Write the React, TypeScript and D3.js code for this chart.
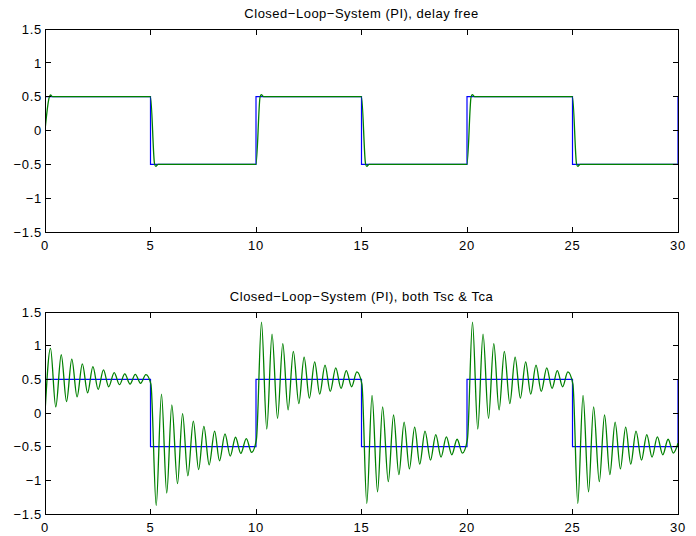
import * as d3 from 'd3';

const W = 696;
const H = 536;

// axis ticks (MATLAB defaults)
const xTicks = [0, 5, 10, 15, 20, 25, 30];
const yTicks = [-1.5, -1, -0.5, 0, 0.5, 1, 1.5];

// reference square wave: level holds from each switch time onwards
const refSwitchT = [0, 5, 10, 15, 20, 25, 30];
const refLevel = [0.5, -0.5, 0.5, -0.5, 0.5, -0.5, 0.5];

// delay free response
const delayFreeT = [0, 0.2, 0.26, 0.36, 5, 5.19, 5.25, 5.36, 10, 10.19, 10.25, 10.36, 15, 15.19, 15.25, 15.36, 20, 20.19, 20.25, 20.36, 25, 25.19, 25.25, 25.36, 30];
const delayFreeY = [0, 0.49, 0.525, 0.5, 0.5, -0.49, -0.53, -0.5, -0.5, 0.49, 0.53, 0.5, 0.5, -0.49, -0.53, -0.5, -0.5, 0.49, 0.53, 0.5, 0.5, -0.49, -0.53, -0.5, -0.5];

// response with both delays: turning points per half period, [t, y]
const bothSeg0 = [[0, 0], [0.26, 0.96], [0.51, 0.09], [0.77, 0.865], [1.02, 0.17], [1.27, 0.8], [1.52, 0.24], [1.77, 0.73], [2.02, 0.3], [2.27, 0.69], [2.52, 0.35], [2.77, 0.64], [3.02, 0.39], [3.28, 0.6], [3.53, 0.42], [3.78, 0.58], [4.03, 0.43], [4.28, 0.575], [4.53, 0.44], [4.78, 0.57]];
const bothSeg1 = [[5.02, 0.43], [5.27, -1.375], [5.52, 0.28], [5.77, -1.19], [6.01, 0.12], [6.28, -1.05], [6.52, -0.01], [6.77, -0.935], [7.03, -0.12], [7.28, -0.84], [7.53, -0.2], [7.78, -0.77], [8.04, -0.27], [8.27, -0.71], [8.53, -0.31], [8.78, -0.64], [9.03, -0.36], [9.28, -0.6], [9.54, -0.38], [9.79, -0.585]];
const bothSeg2 = [[10.02, -0.39], [10.26, 1.35], [10.51, -0.24], [10.76, 1.17], [11.02, -0.08], [11.27, 1.03], [11.52, 0.045], [11.77, 0.915], [12.03, 0.14], [12.28, 0.83], [12.53, 0.22], [12.78, 0.76], [13.02, 0.28], [13.27, 0.71], [13.52, 0.32], [13.78, 0.67], [14.03, 0.365], [14.28, 0.63], [14.53, 0.39], [14.78, 0.61]];
const bothSeg3 = [[15.02, 0.43], [15.25, -1.345], [15.5, 0.26], [15.76, -1.17], [16.0, 0.09], [16.27, -1.02], [16.52, -0.03], [16.77, -0.915], [17.02, -0.135], [17.27, -0.83], [17.52, -0.21], [17.76, -0.76], [18.01, -0.27], [18.27, -0.7], [18.52, -0.32], [18.77, -0.655], [19.02, -0.355], [19.28, -0.62], [19.53, -0.39], [19.78, -0.595]];
const bothSeg4 = [[20.02, -0.39], [20.26, 1.35], [20.51, -0.24], [20.76, 1.17], [21.02, -0.08], [21.27, 1.03], [21.52, 0.045], [21.77, 0.915], [22.03, 0.14], [22.28, 0.83], [22.53, 0.22], [22.78, 0.76], [23.02, 0.28], [23.27, 0.71], [23.52, 0.32], [23.78, 0.67], [24.03, 0.365], [24.28, 0.63], [24.53, 0.39], [24.78, 0.61]];
const bothSeg5 = [[25.02, 0.43], [25.25, -1.345], [25.5, 0.26], [25.76, -1.17], [26.0, 0.09], [26.27, -1.02], [26.52, -0.03], [26.77, -0.915], [27.02, -0.135], [27.27, -0.83], [27.52, -0.21], [27.76, -0.76], [28.01, -0.27], [28.27, -0.7], [28.52, -0.32], [28.77, -0.655], [29.02, -0.355], [29.28, -0.62], [29.53, -0.39], [29.78, -0.595], [30, -0.45]];

const titles = ['Closed\u2212Loop\u2212System (PI), delay free', 'Closed\u2212Loop\u2212System (PI), both Tsc & Tca'];

const FONT = '"Liberation Sans", Arial, Helvetica, sans-serif';
const BLUE = '#0000ff';
const GREEN = '#008000';

const fmt = (v: number) => (v < 0 ? '\u2212' + Math.abs(v) : String(v));

function Panel({ yTop, yBottom, title, green }: { yTop: number; yBottom: number; title: string; green: [number, number][] }) {
  const x = d3.scaleLinear().domain([0, 30]).range([45, 678]);
  const y = d3.scaleLinear().domain([-1.5, 1.5]).range([yBottom, yTop]);
  const tick = 5.5;

  const refPts = refSwitchT.map((t, i) => [t, refLevel[i]] as [number, number]);
  const refPath = d3.line<[number, number]>().x(d => x(d[0])).y(d => y(d[1])).curve(d3.curveStepAfter)(refPts) || '';
  const greenPath = d3.line<[number, number]>().x(d => x(d[0])).y(d => y(d[1])).curve(d3.curveMonotoneX)(green) || '';

  const [x0, x1] = x.range();
  return (
    <g>
      <rect x={x0} y={yTop} width={x1 - x0} height={yBottom - yTop} fill="#fff" />
      <defs>
        <clipPath id={`clip${yTop}`}>
          <rect x={x0} y={yTop} width={x1 - x0 + 1} height={yBottom - yTop} />
        </clipPath>
      </defs>
      <g clipPath={`url(#clip${yTop})`}>
        <path d={refPath} fill="none" stroke={BLUE} strokeWidth={1.2} />
        <path d={greenPath} fill="none" stroke={GREEN} strokeWidth={1.3} />
      </g>
      <g stroke="#000" strokeWidth={1} shapeRendering="crispEdges">
        <rect x={x0} y={yTop} width={x1 - x0} height={yBottom - yTop} fill="none" />
        {xTicks.map(t => (
          <g key={'x' + t}>
            <line x1={x(t)} x2={x(t)} y1={yBottom} y2={yBottom - tick} />
            <line x1={x(t)} x2={x(t)} y1={yTop} y2={yTop + tick} />
          </g>
        ))}
        {yTicks.map(t => (
          <g key={'y' + t}>
            <line x1={x0} x2={x0 + tick} y1={y(t)} y2={y(t)} />
            <line x1={x1} x2={x1 - tick} y1={y(t)} y2={y(t)} />
          </g>
        ))}
      </g>
      <g fontFamily={FONT} fontSize={13} fill="#000" letterSpacing={0.7}>
        {xTicks.map(t => (
          <text key={'xl' + t} x={x(t)} y={yBottom + 17.5} textAnchor="middle">{fmt(t)}</text>
        ))}
        {yTicks.map(t => (
          <text key={'yl' + t} x={x0 - 3} y={y(t)} dy="0.36em" textAnchor="end">{fmt(t)}</text>
        ))}
        <text x={(x0 + x1) / 2} y={yTop - 11.5} textAnchor="middle" letterSpacing={0.5}>{title}</text>
      </g>
    </g>
  );
}

export default function App() {
  const both = [...bothSeg0, ...bothSeg1, ...bothSeg2, ...bothSeg3, ...bothSeg4, ...bothSeg5] as [number, number][];
  const delayFree = delayFreeT.map((t, i) => [t, delayFreeY[i]] as [number, number]);
  return (
    <svg width={W} height={H} style={{ position: 'absolute', left: 0, top: 0, background: '#fff' }}>
      <rect width={W} height={H} fill="#fff" />
      <Panel yTop={29} yBottom={232} title={titles[0]} green={delayFree} />
      <Panel yTop={312} yBottom={514} title={titles[1]} green={both} />
    </svg>
  );
}
